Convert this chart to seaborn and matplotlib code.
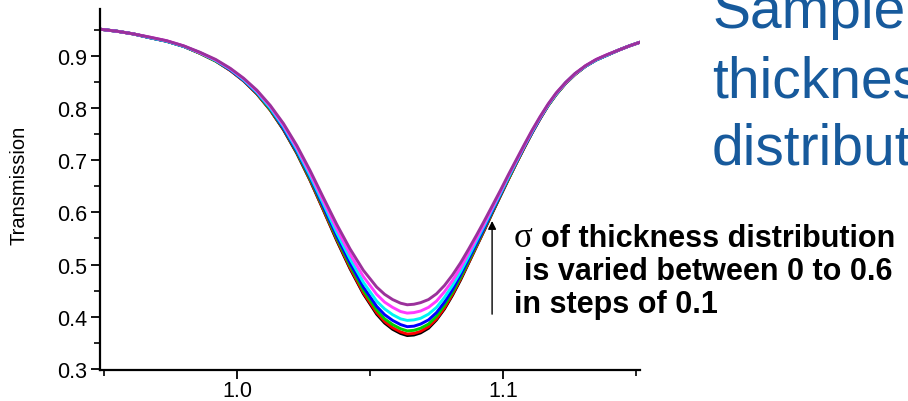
import matplotlib
matplotlib.use("Agg")
import matplotlib.pyplot as plt
from matplotlib.ticker import MultipleLocator, FormatStrFormatter
import pandas as pd
import seaborn as sns

# Photon energy axis shared by all simulated spectra
energy = [0.9485, 0.9550, 0.9610, 0.9670, 0.9735, 0.9800, 0.9860, 0.9920, 0.9975,
          1.0025, 1.0075, 1.0125, 1.0175, 1.0225, 1.0275, 1.0325, 1.0375, 1.0425,
          1.0475, 1.0525, 1.0555, 1.0585, 1.0615, 1.0640, 1.0665, 1.0690, 1.0720,
          1.0750, 1.0780, 1.0810, 1.0840, 1.0870, 1.0900, 1.0930, 1.0960, 1.0990,
          1.1020, 1.1050, 1.1080, 1.1110, 1.1140, 1.1170, 1.1200, 1.1235, 1.1270,
          1.1310, 1.1350, 1.1390, 1.1435, 1.1475, 1.1515]

# Width (sigma) of the thickness distribution for each spectrum
sigma_levels = ["0.0", "0.1", "0.2", "0.3", "0.4", "0.5", "0.6"]

trans_s00 = [0.951, 0.947, 0.942, 0.935, 0.928, 0.918, 0.905, 0.890, 0.872, 0.852,
             0.827, 0.796, 0.758, 0.713, 0.661, 0.604, 0.546, 0.492, 0.444, 0.405,
             0.388, 0.376, 0.368, 0.364, 0.365, 0.369, 0.378, 0.394, 0.415, 0.441,
             0.470, 0.502, 0.534, 0.566, 0.599, 0.631, 0.663, 0.694, 0.724, 0.753,
             0.780, 0.805, 0.826, 0.847, 0.864, 0.880, 0.892, 0.901, 0.911, 0.919,
             0.926]
trans_s01 = [0.951, 0.947, 0.942, 0.935, 0.928, 0.918, 0.905, 0.890, 0.872, 0.852,
             0.827, 0.796, 0.759, 0.714, 0.662, 0.605, 0.548, 0.494, 0.446, 0.408,
             0.391, 0.379, 0.371, 0.367, 0.368, 0.372, 0.381, 0.396, 0.417, 0.443,
             0.472, 0.503, 0.535, 0.567, 0.600, 0.632, 0.663, 0.694, 0.724, 0.753,
             0.780, 0.805, 0.826, 0.847, 0.864, 0.880, 0.892, 0.901, 0.911, 0.919,
             0.926]
trans_s02 = [0.951, 0.947, 0.942, 0.935, 0.928, 0.918, 0.905, 0.890, 0.873, 0.853,
             0.828, 0.797, 0.760, 0.715, 0.664, 0.608, 0.551, 0.498, 0.451, 0.413,
             0.396, 0.385, 0.377, 0.373, 0.374, 0.378, 0.386, 0.401, 0.422, 0.447,
             0.475, 0.506, 0.537, 0.569, 0.601, 0.633, 0.664, 0.695, 0.725, 0.754,
             0.781, 0.805, 0.826, 0.847, 0.864, 0.880, 0.892, 0.901, 0.911, 0.919,
             0.926]
trans_s03 = [0.951, 0.947, 0.942, 0.935, 0.928, 0.918, 0.906, 0.891, 0.873, 0.853,
             0.829, 0.799, 0.761, 0.717, 0.667, 0.611, 0.555, 0.503, 0.457, 0.420,
             0.404, 0.393, 0.385, 0.381, 0.382, 0.386, 0.394, 0.408, 0.428, 0.452,
             0.480, 0.510, 0.540, 0.571, 0.603, 0.634, 0.666, 0.696, 0.726, 0.754,
             0.781, 0.806, 0.827, 0.848, 0.865, 0.880, 0.892, 0.901, 0.911, 0.919,
             0.926]
trans_s04 = [0.951, 0.947, 0.942, 0.935, 0.928, 0.918, 0.906, 0.891, 0.874, 0.854,
             0.830, 0.800, 0.764, 0.720, 0.670, 0.616, 0.561, 0.511, 0.466, 0.430,
             0.415, 0.404, 0.396, 0.393, 0.394, 0.397, 0.405, 0.418, 0.437, 0.460,
             0.486, 0.515, 0.545, 0.575, 0.606, 0.636, 0.667, 0.697, 0.727, 0.755,
             0.782, 0.806, 0.827, 0.848, 0.865, 0.880, 0.892, 0.901, 0.911, 0.919,
             0.926]
trans_s05 = [0.951, 0.947, 0.942, 0.936, 0.929, 0.919, 0.906, 0.892, 0.875, 0.856,
             0.832, 0.803, 0.767, 0.724, 0.675, 0.622, 0.569, 0.520, 0.477, 0.443,
             0.428, 0.418, 0.410, 0.407, 0.408, 0.411, 0.418, 0.430, 0.448, 0.469,
             0.494, 0.522, 0.550, 0.579, 0.609, 0.639, 0.670, 0.699, 0.728, 0.757,
             0.783, 0.807, 0.828, 0.848, 0.865, 0.881, 0.893, 0.902, 0.911, 0.919,
             0.926]
trans_s06 = [0.951, 0.947, 0.942, 0.936, 0.929, 0.919, 0.907, 0.893, 0.876, 0.857,
             0.834, 0.805, 0.770, 0.728, 0.680, 0.628, 0.577, 0.530, 0.489, 0.457,
             0.443, 0.433, 0.426, 0.423, 0.424, 0.427, 0.433, 0.444, 0.460, 0.480,
             0.503, 0.529, 0.556, 0.584, 0.613, 0.642, 0.672, 0.701, 0.730, 0.758,
             0.784, 0.808, 0.829, 0.849, 0.866, 0.881, 0.893, 0.902, 0.911, 0.919,
             0.926]

line_colors = ["#000000", "#FF0000", "#00D000", "#0000FF", "#00F5F5", "#FF3CFF", "#9B319B"]

y_ticks = [0.3, 0.4, 0.5, 0.6, 0.7, 0.8, 0.9]

sns.set_style("ticks")
plt.rcParams["font.family"] = ["Liberation Sans", "DejaVu Sans"]

spectra = [trans_s00, trans_s01, trans_s02, trans_s03, trans_s04, trans_s05, trans_s06]
frames = [pd.DataFrame({"energy": energy, "transmission": vals, "sigma": s})
          for s, vals in zip(sigma_levels, spectra)]
df = pd.concat(frames, ignore_index=True)

W, H = 908, 402
fig = plt.figure(figsize=(W / 100, H / 100), dpi=100)
ax = fig.add_axes([100 / W, 1 - 371 / H, 540 / W, 361 / H])

sns.lineplot(data=df, x="energy", y="transmission", hue="sigma",
             hue_order=sigma_levels, palette=line_colors, estimator=None,
             sort=False, linewidth=2.1, legend=False, ax=ax)
for line in ax.get_lines():
    line.set_solid_joinstyle("round")
    line.set_solid_capstyle("round")

ax.set_xlim(0.9485, 1.1515)
ax.set_ylim(0.298, 0.9897)
ax.xaxis.set_major_locator(MultipleLocator(0.1))
ax.xaxis.set_minor_locator(MultipleLocator(0.05))
ax.set_yticks(y_ticks)
ax.yaxis.set_minor_locator(MultipleLocator(0.05))
ax.xaxis.set_major_formatter(FormatStrFormatter("%.1f"))
ax.yaxis.set_major_formatter(FormatStrFormatter("%.1f"))

sns.despine(ax=ax)
for side in ("left", "bottom"):
    ax.spines[side].set_linewidth(1.6)
    ax.spines[side].set_color("black")

ax.tick_params(which="major", direction="out", length=6.5, width=1.3,
               labelsize=15.5, colors="black", pad=2.5)
ax.tick_params(axis="x", which="major", pad=0.8)
ax.tick_params(which="minor", direction="out", length=4, width=1.2, colors="black")

ax.set_xlabel("")
ax.set_ylabel("Transmission", fontsize=14.5, color="black")
ax.yaxis.set_label_coords(-0.133, 0.515)

# Arrow pointing in the direction of increasing sigma
ax.annotate("", xy=(1.0959, 0.5835), xytext=(1.0959, 0.405),
            arrowprops=dict(arrowstyle="-|>", color="black", lw=1.0,
                            mutation_scale=12, shrinkA=0, shrinkB=0))


def fx(px):
    return px / W


def fy(py):
    return 1 - py / H


note_size = 22
fig.text(fx(514), fy(247), "\u03c3", family="Liberation Serif", fontsize=25,
         va="baseline", ha="left", color="black")
fig.text(fx(541), fy(247), "of thickness distribution", fontsize=note_size,
         fontweight="bold", va="baseline", ha="left", color="black")
fig.text(fx(524), fy(280), "is varied between 0 to 0.6", fontsize=note_size,
         fontweight="bold", va="baseline", ha="left", color="black")
fig.text(fx(514), fy(313), "in steps of 0.1", fontsize=note_size,
         fontweight="bold", va="baseline", ha="left", color="black")

title_color = "#175A9C"
for word, base in (("Sample", 28), ("thickness", 97), ("distribution", 165)):
    fig.text(fx(712), fy(base), word, fontsize=41, color=title_color,
             va="baseline", ha="left")

fig.savefig("out.png", dpi=100)
